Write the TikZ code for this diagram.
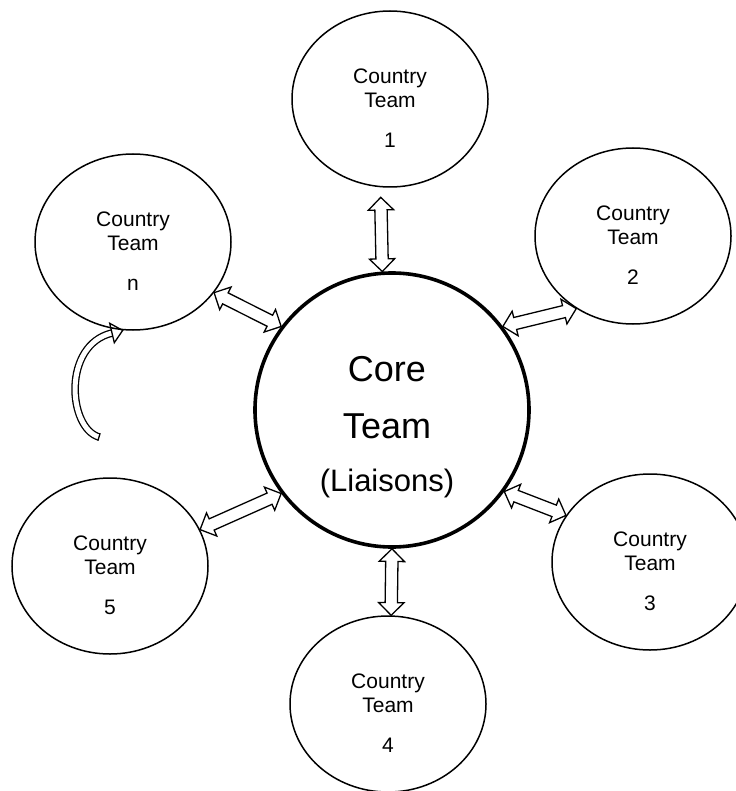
\documentclass[tikz,border=0pt]{standalone}
\usepackage{fontspec}
\setmainfont{Liberation Sans}
\usetikzlibrary{shapes.arrows,shapes.geometric,calc}

\tikzset{
  team/.style={draw, ellipse, line width=1.5pt, minimum width=196pt,
    minimum height=176pt, inner sep=0pt},
  team text/.style={align=center, font=\fontsize{21}{24}\selectfont, yshift=-9pt},
  core/.style={draw, circle, line width=3.6pt, minimum size=274pt, inner sep=0pt},
  link/.style={double arrow, draw, line width=1.3pt, fill=white, inner xsep=0pt,
    inner ysep=5.5pt, double arrow head extend=6.5pt}
}

% hollow two-headed arrow between two points
\newcommand\teamlink[2]{%
  \path let \p1=(#1), \p2=(#2), \n1={atan2(\y2-\y1,\x2-\x1)},
    \n2={veclen(\x2-\x1,\y2-\y1)} in
    node[link, minimum height=\n2, rotate=\n1] at ($(\p1)!0.5!(\p2)$) {};
}

\begin{document}
\begin{tikzpicture}[x=1pt,y=-1pt]
  \useasboundingbox (0,0) rectangle (735,791);

  % curved arrow into team n
  \coordinate (loop tail) at (99,437);
  \coordinate (loop tip) at (112,333);
  \draw[double=white, double distance=5pt, line width=1.3pt]
    (loop tail) .. controls (68,428) and (62,345) .. (loop tip);
  \draw[line width=1.3pt] (100.1,433.2) -- (97.9,440.8);
  \draw[line width=1.3pt, fill=white, line join=miter]
    (114.3,342.7) -- (122.7,330.4) -- (109.7,323.3) -- cycle;

  \node[core] (core) at (392,410) {};
  \node[font=\fontsize{36}{57}\selectfont, align=center] (core text)
    at ($(core.center)+(-5,17)$) {Core\\Team\\[-4pt]{\fontsize{31}{36}\selectfont (Liaisons)}};

  \node[team, label={[team text]center:Country\\Team\\[16pt]1}] (c1) at (390,99) {};
  \node[team, label={[team text]center:Country\\Team\\[16pt]2}] (c2) at (633,236) {};
  \node[team, label={[team text]center:Country\\Team\\[16pt]3}] (c3) at (650,562) {};
  \node[team, label={[team text]center:Country\\Team\\[16pt]4}] (c4) at (388,704) {};
  \node[team, label={[team text]center:Country\\Team\\[16pt]5}] (c5) at (110,566) {};
  \node[team, label={[team text]center:Country\\Team\\[16pt]n}] (cn) at (133,242) {};

  \teamlink{core.94}{$(c1.264)+(0,10)$}
  \teamlink{core.37}{c2.232}
  \teamlink{core.324.2}{c3.151}
  \teamlink{core.270}{c4.88}
  \teamlink{core.217}{c5.22.8}
  \teamlink{core.143.5}{cn.328}
\end{tikzpicture}
\end{document}
